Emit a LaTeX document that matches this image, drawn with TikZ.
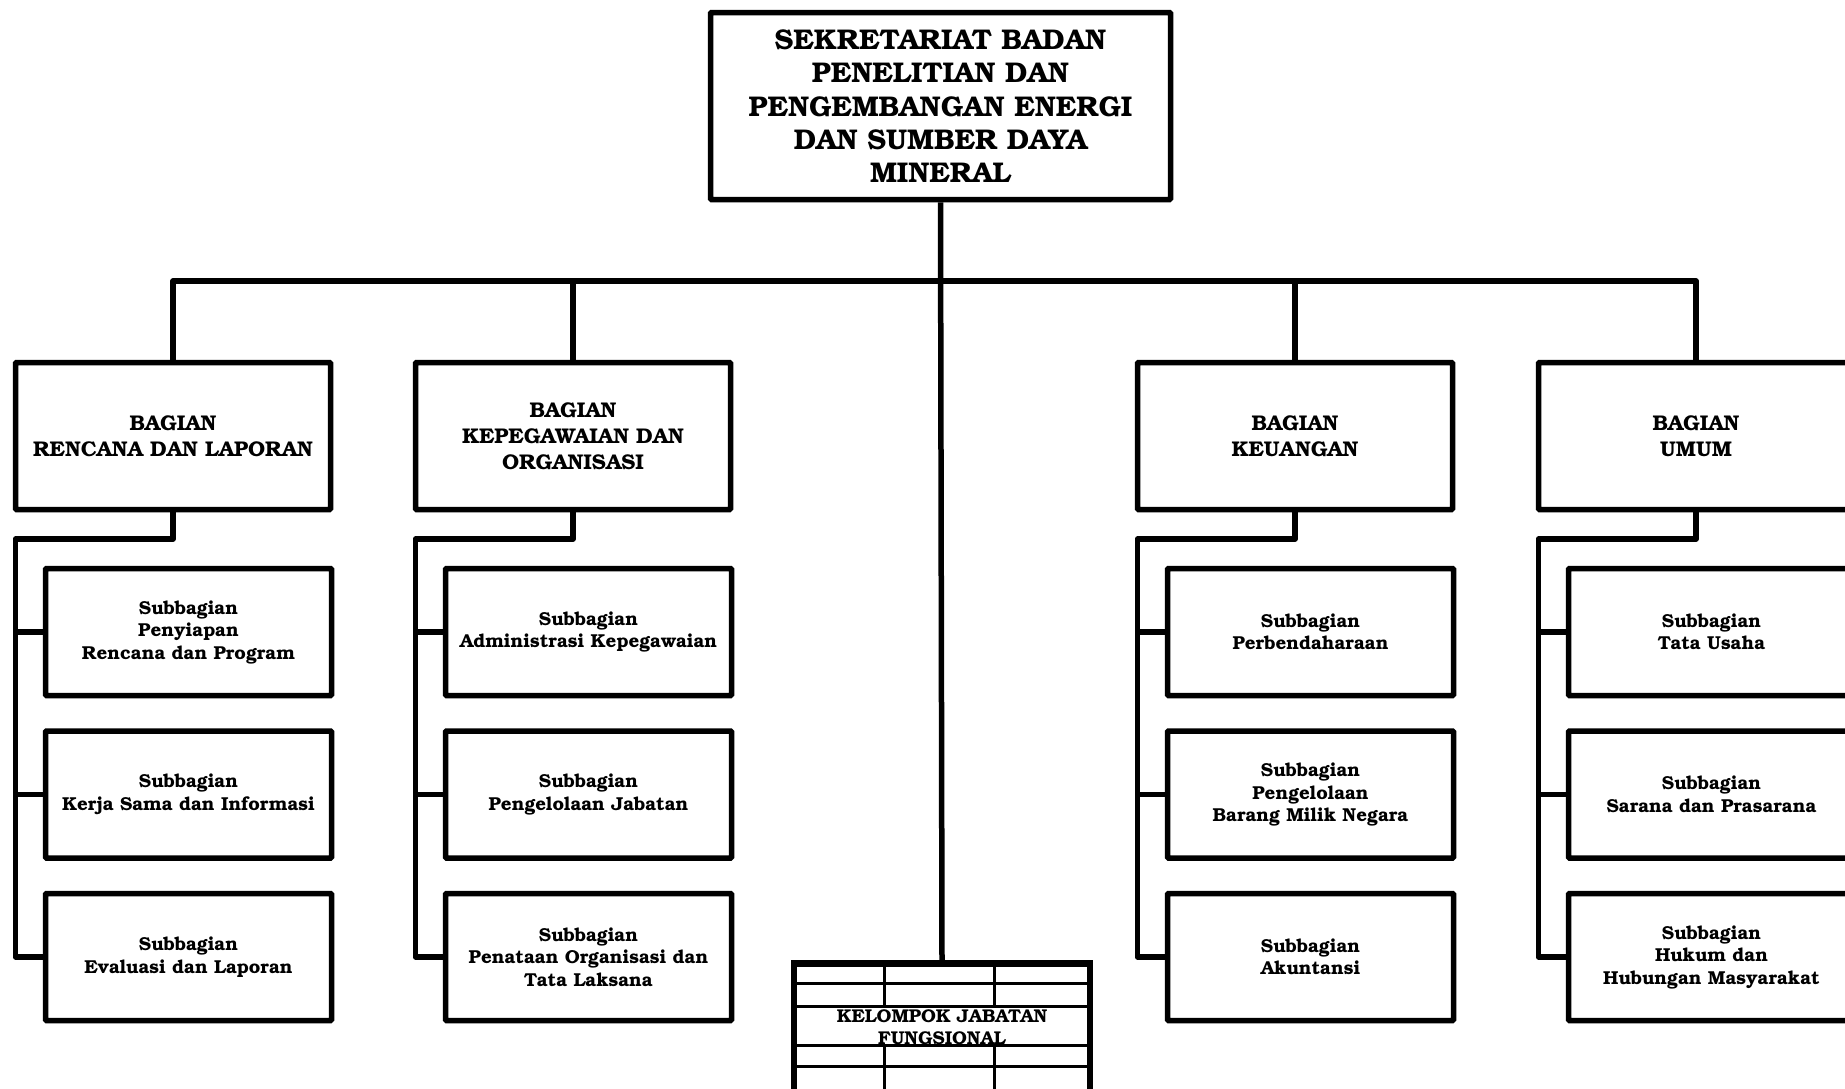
\documentclass[tikz,border=0pt]{standalone}
\usepackage[T1]{fontenc}
\usepackage{bookman}
\begin{document}
\begin{tikzpicture}[x=1pt,y=-1pt,
  conn/.style={line width=5.5pt,line join=round},
  topbox/.style={draw,line width=5.5pt,rounded corners=1pt,minimum width=460pt,minimum height=187pt,inner sep=0pt,align=center,font=\bfseries\fontsize{28.5}{33.3}\selectfont},
  bagbox/.style={draw,line width=5.5pt,rounded corners=1pt,minimum width=315pt,minimum height=147pt,inner sep=0pt,align=center,font=\bfseries\fontsize{21.3}{26}\selectfont},
  subbox/.style={draw,line width=5.5pt,rounded corners=1pt,minimum width=286pt,minimum height=127pt,inner sep=0pt,align=center,font=\bfseries\fontsize{18.7}{22.5}\selectfont},
  kelbox/.style={draw,line width=6.5pt,minimum width=296pt,minimum height=180pt,inner sep=0pt,anchor=north},
  grid/.style={line width=3pt},
  keltext/.style={align=center,inner sep=0pt,font=\bfseries\fontsize{18.5}{22}\selectfont}
]
\useasboundingbox (0,0) rectangle (1845,1088);
\clip (0,0) rectangle (1845,1088);

% top
\node[topbox] (top) at (940.5,106) {SEKRETARIAT BADAN\\PENELITIAN DAN\\PENGEMBANGAN ENERGI\\DAN SUMBER DAYA\\MINERAL};

% bagian
\node[bagbox] (b1) at (173,436) {BAGIAN\\RENCANA DAN LAPORAN};
\node[bagbox] (b2) at (573,436) {BAGIAN\\KEPEGAWAIAN DAN\\ORGANISASI};
\node[bagbox] (b3) at (1295,436) {BAGIAN\\KEUANGAN};
\node[bagbox] (b4) at (1696,436) {BAGIAN\\UMUM};

% subbagian
\node[subbox] (s11) at (188.5,632) {Subbagian\\Penyiapan\\Rencana dan Program};
\node[subbox] (s12) at (188.5,794.5) {Subbagian\\Kerja Sama dan Informasi};
\node[subbox] (s13) at (188.5,957) {Subbagian\\Evaluasi dan Laporan};

\node[subbox] (s21) at (588.5,632) {Subbagian\\Administrasi Kepegawaian};
\node[subbox] (s22) at (588.5,794.5) {Subbagian\\Pengelolaan Jabatan};
\node[subbox] (s23) at (588.5,957) {Subbagian\\Penataan Organisasi dan\\Tata Laksana};

\node[subbox] (s31) at (1310.5,632) {Subbagian\\Perbendaharaan};
\node[subbox] (s32) at (1310.5,794.5) {Subbagian\\Pengelolaan\\Barang Milik Negara};
\node[subbox] (s33) at (1310.5,957) {Subbagian\\Akuntansi};

\node[subbox] (s41) at (1711.5,632) {Subbagian\\Tata Usaha};
\node[subbox] (s42) at (1711.5,794.5) {Subbagian\\Sarana dan Prasarana};
\node[subbox] (s43) at (1711.5,957) {Subbagian\\Hukum dan\\Hubungan Masyarakat};

% kelompok jabatan fungsional
\node[kelbox] (kel) at (942,960) {};
\draw[grid] (797,983) -- (1087,983);
\draw[grid] (797,1006) -- (1087,1006);
\draw[grid] (797,1045) -- (1087,1045);
\draw[grid] (797,1066) -- (1087,1066);
\draw[grid] (884,962) -- (884,1006);
\draw[grid] (994,962) -- (994,1006);
\draw[grid] (884,1045) -- (884,1090);
\draw[grid] (994,1045) -- (994,1090);
\node[keltext] (keltxt) at (942,1027) {KELOMPOK JABATAN\\FUNGSIONAL};

% main connectors
\coordinate (bus) at (940.5,281);
\draw[conn] (top.south) -- (kel.north);
\draw[conn] (b1.north) |- (bus) -| (b4.north);
\draw[conn] (b2.north) -- (b2.north |- bus);
\draw[conn] (b3.north) -- (b3.north |- bus);

% column connectors
\foreach \b/\x in {1/15.5,2/415.5,3/1137.5,4/1538.5}{
  \coordinate (c\b) at (\x,539);
  \draw[conn] (b\b.south) |- (c\b) -- (c\b |- s\b3.west) -- (s\b3.west);
  \draw[conn] (c\b |- s\b1.west) -- (s\b1.west);
  \draw[conn] (c\b |- s\b2.west) -- (s\b2.west);
}
\end{tikzpicture}
\end{document}
